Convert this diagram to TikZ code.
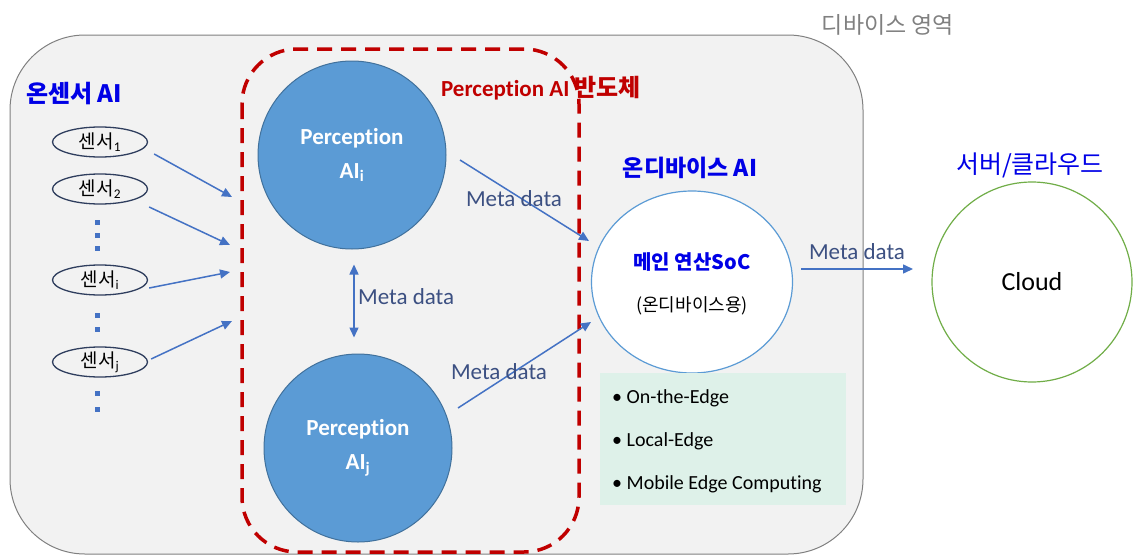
\documentclass[tikz,border=0pt]{standalone}
\usepackage{fontspec}
\setmainfont{Carlito}[Ligatures=NoCommon]
\newfontfamily\kr{Noto Sans CJK KR}
\usetikzlibrary{arrows.meta,shapes.geometric,calc}
\definecolor{devgray}{RGB}{242,242,242}
\definecolor{devborder}{RGB}{128,128,128}
\definecolor{pred}{RGB}{192,0,0}
\definecolor{pfill}{RGB}{91,155,213}
\definecolor{pborder}{RGB}{65,113,156}
\definecolor{arrblue}{RGB}{68,114,196}
\definecolor{labblue}{RGB}{0,0,230}
\definecolor{metacol}{RGB}{60,80,130}
\definecolor{sensorline}{RGB}{47,62,94}
\definecolor{mint}{RGB}{222,241,233}
\definecolor{cloudgreen}{RGB}{112,173,71}
\definecolor{textgray}{RGB}{128,128,128}
\tikzset{
  arr/.style={draw=arrblue, line width=1.5pt, -{Triangle[width=9pt,length=10pt]}},
  darr/.style={draw=arrblue, line width=1.5pt, {Triangle[width=9pt,length=10pt]}-{Triangle[width=9pt,length=10pt]}},
  sensorbox/.style={ellipse, draw=sensorline, line width=1.3pt, minimum width=95pt, minimum height=30pt, inner sep=0pt, font=\kr\fontsize{19}{21}\selectfont},
  percircle/.style={circle, fill=pfill, draw=pborder, line width=1pt, minimum size=188pt, inner sep=0pt, align=center, text=white, font=\bfseries\fontsize{23}{34}\selectfont},
  metalabel/.style={text=metacol, font=\fontsize{23}{26}\selectfont, inner sep=0pt},
  dotmark/.style={fill=arrblue, minimum width=5pt, minimum height=5pt, inner sep=0pt},
  bullettext/.style={anchor=west, font=\fontsize{20}{22}\selectfont, inner sep=0pt},
}
\begin{document}
\begin{tikzpicture}[x=1pt,y=-1pt]
\useasboundingbox (0,0) rectangle (1133,557);
% device area
\draw[fill=devgray, draw=devborder, line width=1pt, rounded corners=75pt] (10,35) rectangle (863,554);
\node[text=textgray, font=\kr\fontsize{23}{25}\selectfont] (devlab) at (888,25) {디바이스 영역};
% red dashed region
\draw[pred, line width=3.5pt, dash pattern=on 15pt off 9pt, rounded corners=55pt] (242,49) rectangle (579,552);
\node[text=pred, font=\bfseries\fontsize{23}{25}\selectfont, inner sep=0pt] (redlab) at (541,88) {Perception AI {\kr\fontsize{24}{26}\selectfont 반도체}};
% on-sensor label
\node[text=labblue, font=\kr\bfseries\fontsize{24}{26}\selectfont, inner sep=0pt] (onsens) at (74,94) {온센서 AI};
% sensors
\node[sensorbox] (s1) at (100,142) {센서\textsubscript{\rmfamily 1}};
\node[sensorbox] (s2) at (100,189) {센서\textsubscript{\rmfamily 2}};
\node[sensorbox] (si) at (100,280) {센서\textsubscript{\rmfamily i}};
\node[sensorbox] (sj) at (100,362) {센서\textsubscript{\rmfamily j}};
\foreach \n/\yy in {d1/222,d2/235,d3/248,d4/315,d5/329,d6/393,d7/409}
  \node[dotmark] (\n) at (97,\yy) {};
% sensor arrow ends
\coordinate (e1) at (232,197);
\coordinate (e2) at (230,245);
\coordinate (e3) at (230,272);
\coordinate (e4) at (232,321);
\draw[arr] ([xshift=6pt,yshift=-12pt]s1.east) -- (e1);
\draw[arr] ([xshift=1pt,yshift=-18pt]s2.east) -- (e2);
\draw[arr] ([xshift=1pt,yshift=-8pt]si.east) -- (e3);
\draw[arr] ([xshift=3pt,yshift=3pt]sj.east) -- (e4);
% perception circles
\node[percircle] (ai) at (352,155) {Perception\\AI\textsubscript{i}};
\node[percircle] (aj) at (358,448) {Perception\\AI\textsubscript{j}};
\draw[darr] ([yshift=-15pt]ai.south -| 354,0) -- ([yshift=16pt]aj.north -| 354,0);
\node[metalabel, anchor=west] (m0) at (358,297) {Meta data};
% on-device
\node[text=labblue, font=\kr\bfseries\fontsize{23}{25}\selectfont, inner sep=0pt] (ondev) at (690,168) {온디바이스 AI};
\node[ellipse, draw=pfill, line width=1.2pt, fill=white, minimum width=201pt, minimum height=182pt, inner sep=0pt] (soc) at (692,282) {};
\node[text=labblue, font=\kr\bfseries\fontsize{20}{22}\selectfont, inner sep=0pt] (soct) at (692,262) {메인 연산SoC};
\node[font=\kr\fontsize{18}{20}\selectfont, inner sep=0pt] (socs) at (692,306) {(온디바이스용)};
\coordinate (ai-out) at (460,160);
\coordinate (soc-in1) at (589,241);
\coordinate (aj-out) at (458,408);
\coordinate (soc-in2) at (591,322);
\draw[arr] (ai-out) -- (soc-in1);
\draw[arr] (aj-out) -- (soc-in2);
\node[metalabel] (m1) at (514,199) {Meta data};
\node[metalabel] (m2) at (499,372) {Meta data};
% green box
\node[fill=mint, minimum width=246pt, minimum height=132pt, inner sep=0pt] (edgebox) at (723,439) {};
\node[bullettext] (b1) at (612,398) {\textbullet\ On-the-Edge};
\node[bullettext] (b2) at (612,441) {\textbullet\ Local-Edge};
\node[bullettext] (b3) at (612,484) {\textbullet\ Mobile Edge Computing};
% cloud
\node[text=labblue, font=\kr\fontsize{25}{27}\selectfont, inner sep=0pt] (srv) at (1030,165) {서버/클라우드};
\node[circle, draw=cloudgreen, line width=1.2pt, fill=white, minimum size=200pt, inner sep=0pt, font=\fontsize{26}{28}\selectfont] (cloud) at (1032,282) {Cloud};
\coordinate (cl-in) at (913,269);
\draw[arr] ([xshift=8pt]soc.east |- cl-in) -- (cl-in);
\node[metalabel] (m3) at (857,252) {Meta data};
\end{tikzpicture}
\end{document}
